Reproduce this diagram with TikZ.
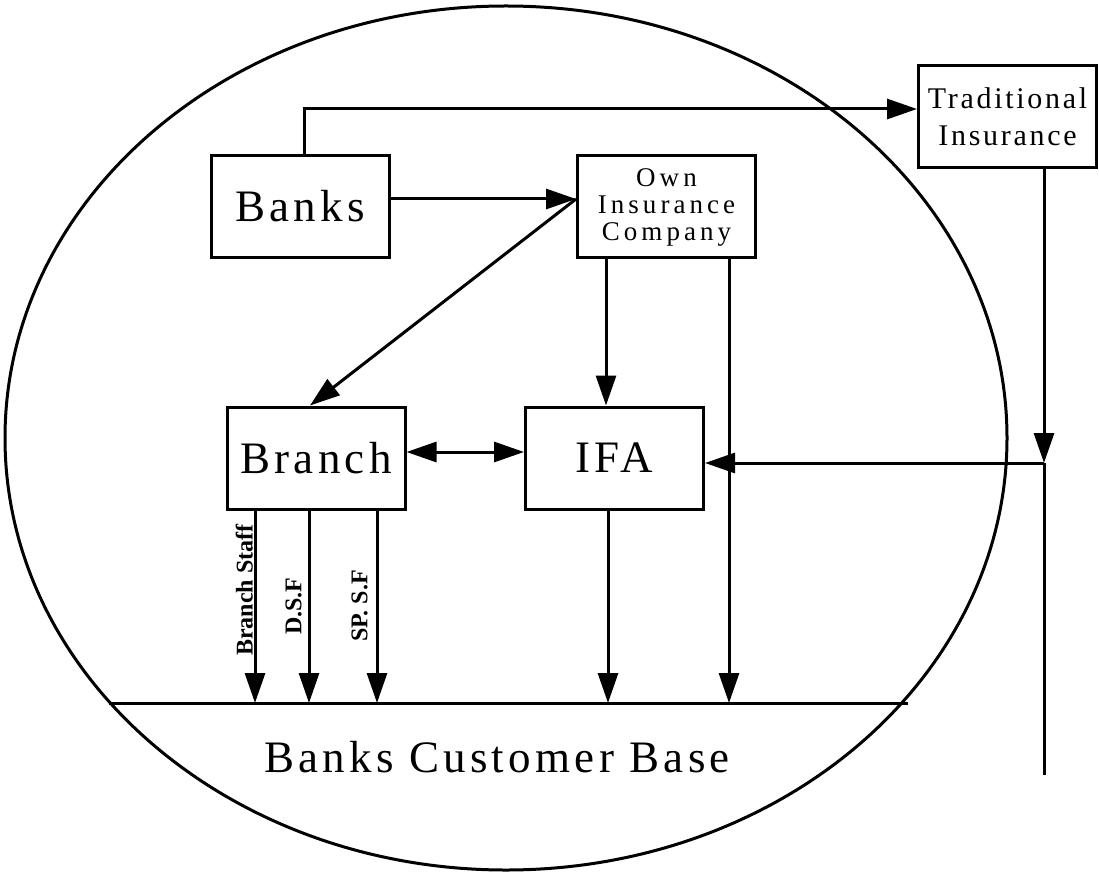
\documentclass[tikz,border=0pt]{standalone}
\usepackage{fontspec}
\setmainfont{Liberation Serif}
\usetikzlibrary{arrows.meta}
\begin{document}
\begin{tikzpicture}[x=1pt,y=-1pt,
  box/.style={draw, line width=3pt, minimum width=178pt, minimum height=102pt, inner sep=0pt, align=center},
  big/.style={font=\fontsize{45}{50}\selectfont\addfontfeatures{LetterSpace=9.5}},
  conn/.style={line width=3pt},
  tip/.tip={Triangle[length=30pt,width=20pt]},
  arr/.style={conn, -tip},
  darr/.style={conn, tip-tip},
  lbl/.style={font=\fontsize{24}{26}\selectfont\bfseries, rotate=90, anchor=south, inner sep=0pt}
]
\useasboundingbox (0,0) rectangle (1099,874);

% customer base
\draw[line width=3pt] (506,438) ellipse [x radius=501, y radius=432];
\coordinate (bl) at (109,703);
\coordinate (br) at (908,703);
\draw[conn] (bl) -- (br);
\node[big, anchor=base, inner sep=0pt] (cust) at (497,772) {Banks Customer Base};

% boxes
\node[box, big] (banks) at (300,206.5) {Banks};
\node[box, font=\fontsize{27}{27}\selectfont\addfontfeatures{LetterSpace=15}] (own) at (666.5,207) {Own\\Insurance\\Company};
\node[box, font=\fontsize{30}{37}\selectfont\addfontfeatures{LetterSpace=9}] (trad) at (1007.5,116.5) {Traditional\\Insurance};
\node[box, big] (branch) at (316,458) {Branch};
\node[box, big] (ifa) at (614.5,458) {IFA};

% connectors
\coordinate (t1) at (304,109);
\draw[arr] (banks.north -| t1) |- (trad.west |- t1);
\coordinate (t2) at (0,199);
\draw[arr] (banks.east |- t2) -- (own.west |- t2);
\coordinate (t3) at (310,0);
\draw[arr] (own.west |- t2) -- (branch.north -| t3);
\coordinate (t4) at (606,0);
\draw[arr] (own.south -| t4) -- (ifa.north -| t4);
\coordinate (t5) at (729,0);
\draw[arr] (own.south -| t5) -- (bl -| t5);
\coordinate (t6) at (0,452);
\draw[darr] (branch.east |- t6) -- (ifa.west |- t6);
\coordinate (t7) at (608,0);
\draw[arr] (ifa.south -| t7) -- (bl -| t7);

\coordinate (j) at (1044,463);
\coordinate (jend) at (1044,775);
\draw[arr] (trad.south -| j) -- (j);
\draw[conn] (j) -- (jend);
\draw[arr] (j) -- (ifa.east |- j);

% branch channels
\coordinate (b1) at (255,0);
\coordinate (b2) at (309,0);
\coordinate (b3) at (377,0);
\draw[arr] (branch.south -| b1) -- (bl -| b1);
\draw[arr] (branch.south -| b2) -- (bl -| b2);
\draw[arr] (branch.south -| b3) -- (bl -| b3);
\node[lbl] (l1) at (253,590) {Branch Staff};
\node[lbl] (l2) at (302,606) {D.S.F};
\node[lbl] (l3) at (368,606) {SP. S.F};
\end{tikzpicture}
\end{document}
